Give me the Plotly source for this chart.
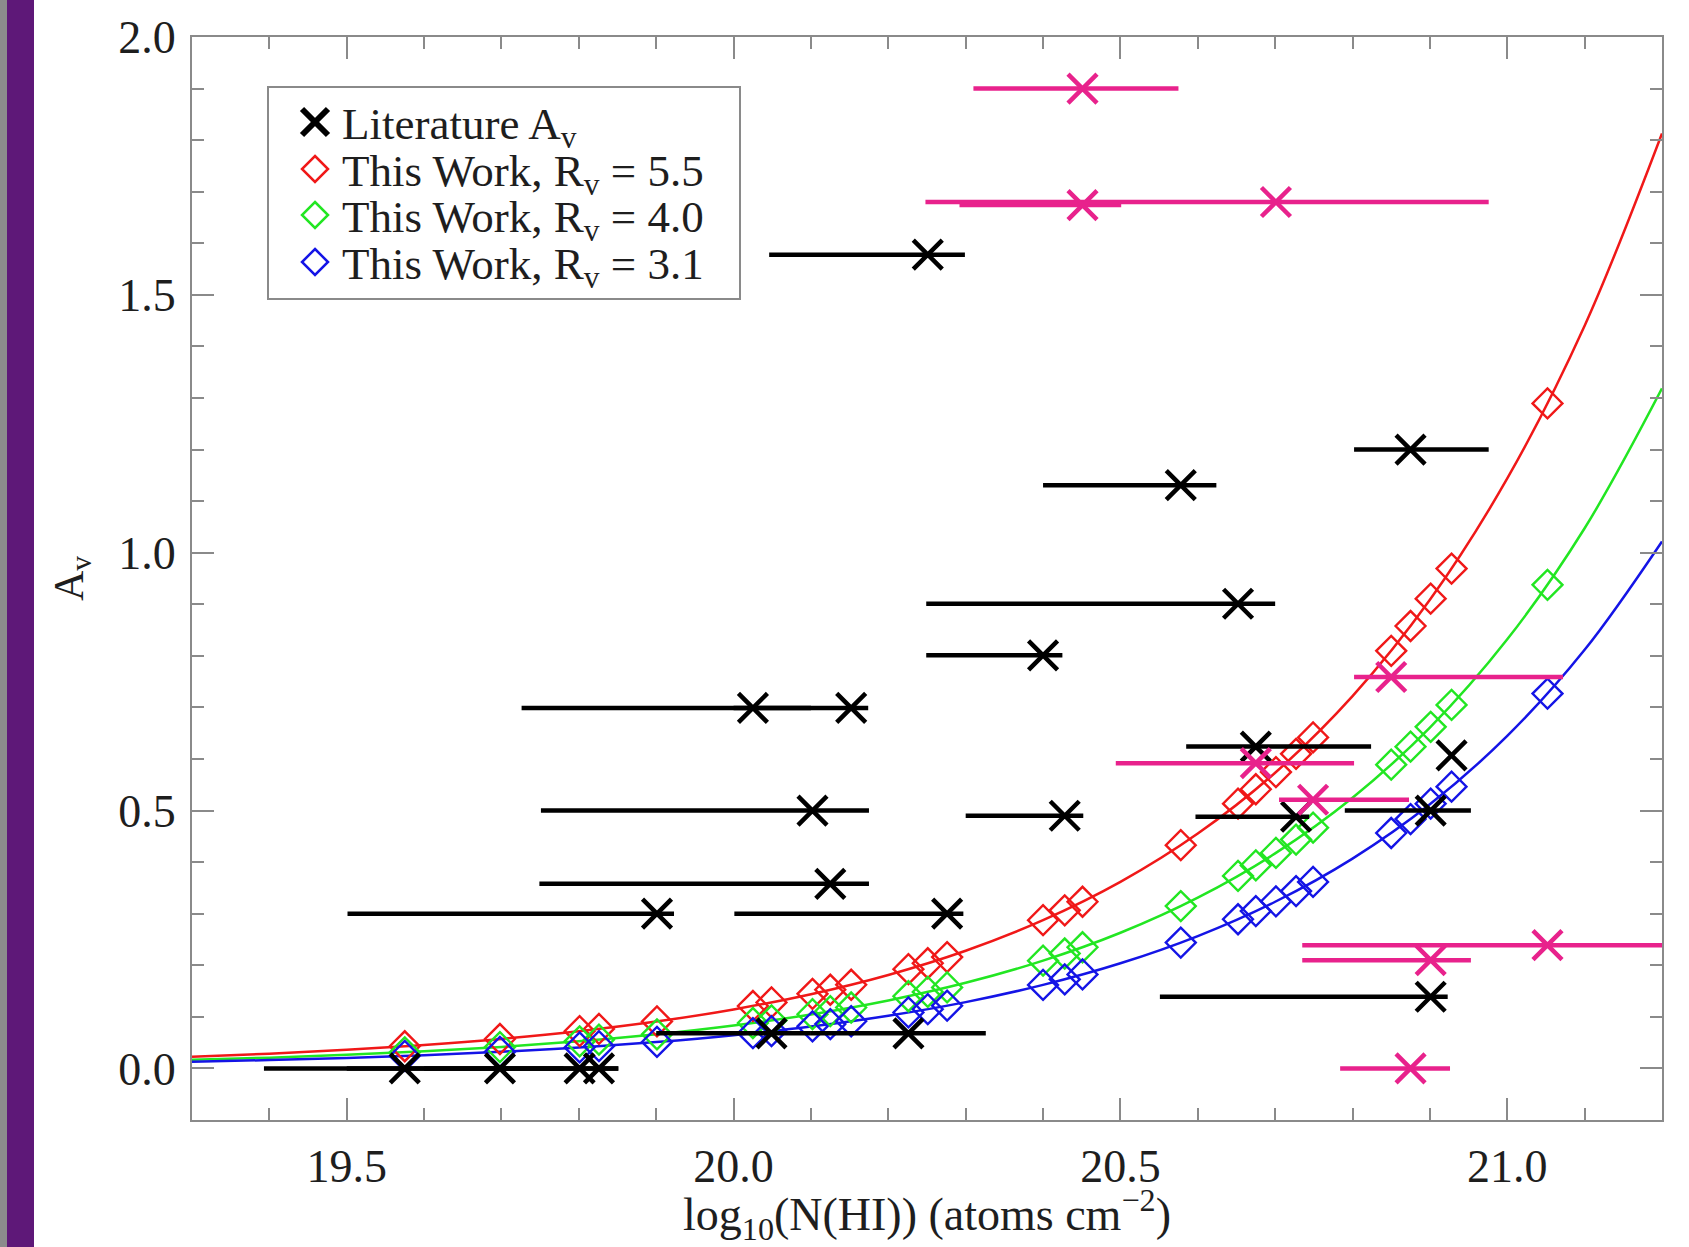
import plotly.graph_objects as go

# ---------------- data ----------------
# Literature A_v (black crosses) with horizontal error ranges
lit_x   = [20.251, 20.578, 20.875, 20.652, 20.400, 20.025, 20.152, 20.102, 20.428, 20.675,
           20.727, 20.901, 20.928, 20.901, 19.901, 20.125, 20.276, 20.049, 20.226,
           19.575, 19.698, 19.801, 19.826]
lit_y   = [1.578, 1.131, 1.200, 0.901, 0.801, 0.699, 0.699, 0.500, 0.490, 0.624,
           0.488, 0.500, 0.607, 0.139, 0.300, 0.358, 0.300, 0.068, 0.068,
           0.000, 0.000, 0.000, 0.000]
lit_xlo = [20.046, 20.400, 20.802, 20.249, 20.249, 19.726, 20.000, 19.751, 20.300, 20.585,
           20.597, 20.790, 20.928, 20.551, 19.501, 19.749, 20.001, 19.900, 20.100,
           19.393, 19.500, 19.600, 19.650]
lit_xhi = [20.299, 20.624, 20.976, 20.700, 20.425, 20.100, 20.174, 20.175, 20.452, 20.824,
           20.744, 20.953, 20.928, 20.923, 19.923, 20.175, 20.297, 20.100, 20.326,
           19.650, 19.780, 19.851, 19.851]

# Literature A_v (magenta crosses)
pink_x   = [20.451, 20.451, 20.701, 20.850, 20.675, 20.749, 21.052, 20.901, 20.875]
pink_y   = [1.900, 1.674, 1.680, 0.759, 0.592, 0.521, 0.239, 0.210, 0.000]
pink_xlo = [20.310, 20.292, 20.248, 20.802, 20.494, 20.705, 20.735, 20.735, 20.784]
pink_xhi = [20.575, 20.501, 20.976, 21.072, 20.802, 20.873, 21.350, 20.953, 20.926]

# This Work (diamonds)
work_x = [19.575, 19.698, 19.801, 19.826, 19.901, 20.025, 20.049, 20.102, 20.125, 20.152,
          20.226, 20.251, 20.276, 20.400, 20.428, 20.451, 20.578, 20.652, 20.675, 20.701,
          20.727, 20.749, 20.850, 20.875, 20.901, 20.928, 21.052]
red_y   = [0.0430, 0.0571, 0.0723, 0.0766, 0.0911, 0.1211, 0.1280, 0.1447, 0.1526, 0.1623,
           0.1925, 0.2039, 0.2160, 0.2874, 0.3065, 0.3232, 0.4329, 0.5133, 0.5413, 0.5746,
           0.6101, 0.6418, 0.8098, 0.8579, 0.9109, 0.9692, 1.2895]
green_y = [0.0313, 0.0415, 0.0526, 0.0557, 0.0662, 0.0881, 0.0931, 0.1052, 0.1110, 0.1181,
           0.1400, 0.1483, 0.1571, 0.2090, 0.2229, 0.2350, 0.3148, 0.3733, 0.3937, 0.4179,
           0.4437, 0.4668, 0.5890, 0.6239, 0.6624, 0.7049, 0.9378]
blue_y  = [0.0242, 0.0322, 0.0408, 0.0432, 0.0513, 0.0683, 0.0722, 0.0816, 0.0860, 0.0915,
           0.1085, 0.1149, 0.1217, 0.1620, 0.1727, 0.1822, 0.2440, 0.2893, 0.3051, 0.3239,
           0.3439, 0.3617, 0.4565, 0.4835, 0.5134, 0.5463, 0.7268]

# smooth model curves
curve_x = [19.3, 19.4, 19.5, 19.6, 19.7, 19.8, 19.9, 20.0, 20.1, 20.2,
           20.3, 20.4, 20.5, 20.6, 20.7, 20.8, 20.9, 21.0, 21.1, 21.2]
red_curve   = [0.0228, 0.0287, 0.0362, 0.0455, 0.0573, 0.0722, 0.0909, 0.1144, 0.1440, 0.1813,
               0.2282, 0.2874, 0.3617, 0.4554, 0.5734, 0.7219, 0.9087, 1.1440, 1.4402, 1.8131]
green_curve = [0.0166, 0.0209, 0.0263, 0.0331, 0.0417, 0.0525, 0.0661, 0.0832, 0.1047, 0.1319,
               0.1660, 0.2090, 0.2631, 0.3312, 0.4170, 0.5250, 0.6609, 0.8320, 1.0474, 1.3186]
blue_curve  = [0.0129, 0.0162, 0.0204, 0.0257, 0.0323, 0.0407, 0.0512, 0.0645, 0.0812, 0.1022,
               0.1286, 0.1620, 0.2039, 0.2567, 0.3232, 0.4069, 0.5122, 0.6448, 0.8117, 1.0219]

legend_labels = ["Literature A<sub>v</sub>",
                 "This Work, R<sub>v</sub> = 5.5",
                 "This Work, R<sub>v</sub> = 4.0",
                 "This Work, R<sub>v</sub> = 3.1"]

# ---------------- styling ----------------
RED, GREEN, BLUE = "#f01818", "#22e622", "#1414e6"
PINK = "#e8228c"
FONT = "Liberation Serif"
TXT = "#1e1e1e"

W, H = 1689, 1247
ML, MR, MT, MB = 192, 27, 37, 127
PW, PH = W - ML - MR, H - MT - MB


def px(xp):
    return (xp - ML) / PW


def py(yp):
    return 1 - (yp - MT) / PH


fig = go.Figure()

# model curves
for cy, col in [(red_curve, RED), (green_curve, GREEN), (blue_curve, BLUE)]:
    fig.add_trace(go.Scatter(x=curve_x, y=cy, mode="lines",
                             line=dict(color=col, width=2.5, shape="spline"),
                             showlegend=False, hoverinfo="skip"))

# diamonds
for i, (wy, col) in enumerate([(red_y, RED), (green_y, GREEN), (blue_y, BLUE)]):
    fig.add_trace(go.Scatter(x=work_x, y=wy, mode="markers", name=legend_labels[i + 1],
                             showlegend=False,
                             marker=dict(symbol="diamond-open", size=23, color=col,
                                         line=dict(width=2.4, color=col))))

# literature black
fig.add_trace(go.Scatter(
    x=lit_x, y=lit_y, mode="markers", name=legend_labels[0], showlegend=False,
    marker=dict(symbol="x-thin", size=29, color="black", line=dict(width=4.5, color="black")),
    error_x=dict(type="data", symmetric=False,
                 array=[h - x for h, x in zip(lit_xhi, lit_x)],
                 arrayminus=[x - l for x, l in zip(lit_x, lit_xlo)],
                 color="black", thickness=4.5, width=0)))

# literature pink
fig.add_trace(go.Scatter(
    x=pink_x, y=pink_y, mode="markers", showlegend=False,
    marker=dict(symbol="x-thin", size=29, color=PINK, line=dict(width=4.5, color=PINK)),
    error_x=dict(type="data", symmetric=False,
                 array=[h - x for h, x in zip(pink_xhi, pink_x)],
                 arrayminus=[x - l for x, l in zip(pink_x, pink_xlo)],
                 color=PINK, thickness=4.5, width=0)))

axis_common = dict(
    showline=True, linecolor="#8a8a8a", linewidth=2, mirror="ticks",
    ticks="inside", ticklen=22, tickwidth=2, tickcolor="#8a8a8a",
    showgrid=False, zeroline=False, tickformat=".1f",
    tickfont=dict(family=FONT, size=46, color=TXT),
)

fig.update_layout(
    width=W, height=H,
    margin=dict(l=ML, r=MR, t=MT, b=MB),
    paper_bgcolor="white", plot_bgcolor="white",
    font=dict(family=FONT, color=TXT),
    showlegend=False,
    xaxis=dict(range=[19.3, 21.2], tick0=19.5, dtick=0.5,
               minor=dict(dtick=0.1, ticks="inside", ticklen=12, tickwidth=2,
                          tickcolor="#8a8a8a", showgrid=False),
               ticklabelstandoff=5,
               title=dict(text="log<sub>10</sub>(N(HI)) (atoms cm<sup>−2</sup>)",
                          font=dict(family=FONT, size=46, color=TXT), standoff=11),
               **axis_common),
    yaxis=dict(range=[-0.1, 2.0], tick0=0, dtick=0.5,
               minor=dict(dtick=0.1, ticks="inside", ticklen=12, tickwidth=2,
                          tickcolor="#8a8a8a", showgrid=False),
               ticklabelstandoff=5,
               title=dict(text="A<sub>v</sub>", font=dict(family=FONT, size=42, color=TXT),
                          standoff=22),
               **axis_common),
)

# ---- hand-built legend box (matches the reference's compact layout) ----
fig.add_shape(type="rect", xref="paper", yref="paper",
              x0=px(268), x1=px(740), y0=py(299), y1=py(87),
              fillcolor="white", line=dict(color="#8a8a8a", width=2), layer="above")
row_y = [122, 169, 215, 262]
sym_x = 315
half = 13
# cross symbol
fig.add_shape(type="line", xref="paper", yref="paper",
              x0=px(sym_x - half), x1=px(sym_x + half), y0=py(row_y[0] - half), y1=py(row_y[0] + half),
              line=dict(color="black", width=6), layer="above")
fig.add_shape(type="line", xref="paper", yref="paper",
              x0=px(sym_x - half), x1=px(sym_x + half), y0=py(row_y[0] + half), y1=py(row_y[0] - half),
              line=dict(color="black", width=6), layer="above")
# diamond symbols
for ry, col in zip(row_y[1:], [RED, GREEN, BLUE]):
    path = (f"M {px(sym_x)},{py(ry - half)} L {px(sym_x + half)},{py(ry)} "
            f"L {px(sym_x)},{py(ry + half)} L {px(sym_x - half)},{py(ry)} Z")
    fig.add_shape(type="path", xref="paper", yref="paper", path=path,
                  line=dict(color=col, width=2.5), layer="above")
for ry, lab in zip(row_y, legend_labels):
    fig.add_annotation(xref="paper", yref="paper", x=px(340), y=py(ry + 5),
                       xanchor="left", yanchor="middle", showarrow=False, text=lab,
                       font=dict(family=FONT, size=45, color=TXT))

# left decorative strips (gray + purple)
fig.add_shape(type="rect", xref="paper", yref="paper", x0=px(0), x1=px(7),
              y0=-0.2, y1=1.1, fillcolor="#8c8c8c", line_width=0, layer="below")
fig.add_shape(type="rect", xref="paper", yref="paper", x0=px(7), x1=px(34),
              y0=-0.2, y1=1.1, fillcolor="#5e1878", line_width=0, layer="below")

fig.write_html("out.html")
